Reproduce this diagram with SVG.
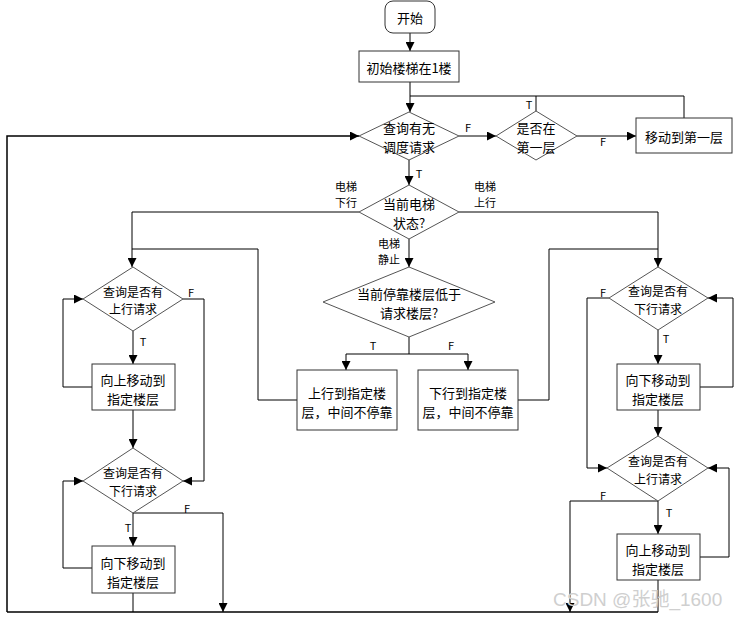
<svg xmlns="http://www.w3.org/2000/svg" width="738" height="618" viewBox="0 0 738 618">
<defs>
<marker id="arr" markerUnits="userSpaceOnUse" markerWidth="9" markerHeight="9" refX="9" refY="4.5" orient="auto">
<path d="M0,0 L9,4.5 L0,9 z" fill="#000"/>
</marker>
<style>
.box{fill:#fff;stroke:#333;stroke-width:1}
.dia{fill:#fff;stroke:#555;stroke-width:1}
.t{font-family:"Microsoft YaHei","Noto Sans CJK SC",sans-serif;font-size:13px;fill:#000;text-anchor:middle;dominant-baseline:central}
.s{font-family:"Microsoft YaHei","Noto Sans CJK SC",sans-serif;font-size:12px;fill:#000;text-anchor:middle;dominant-baseline:central}
.l{font-family:"Microsoft YaHei","Noto Sans CJK SC",sans-serif;font-size:11px;fill:#000;text-anchor:middle;dominant-baseline:central}
.c{fill:none;stroke:#000;stroke-width:1}
.a{marker-end:url(#arr)}
</style>
</defs>
<rect width="738" height="618" fill="#fff"/>
<g id="connectors">
<path class="c a" d="M410,33 V51"/>
<path class="c a" d="M410,82 V112"/>
<path class="c" d="M684,118 V96 H410"/>
<path class="c" d="M536,111 V96"/>
<path class="c a" d="M459,136 H496"/>
<path class="c a" d="M577,136 H636"/>
<path class="c a" d="M7,612 V136 H359" style="stroke-width:1.5"/>
<path class="c a" d="M409,160 V185"/>
<path class="c a" d="M359,212 H132 V267"/>
<path class="c a" d="M459,212 H658 V267"/>
<path class="c a" d="M409,239 V267"/>
<path class="c" d="M409,337 V354 M346,354 H468"/>
<path class="c a" d="M346,354 V370"/>
<path class="c a" d="M468,354 V370"/>
<path class="c" d="M297,400 H258 V249 H132"/>
<path class="c" d="M518,400 H549 V249 H658"/>
<path class="c a" d="M133,331 V364"/>
<path class="c a" d="M92,387 H63 V299 H83"/>
<path class="c a" d="M183,299 H204 V481 H183"/>
<path class="c a" d="M133,410 V448"/>
<path class="c a" d="M133,513 V546"/>
<path class="c a" d="M92,568 H63 V481 H83"/>
<path class="c a" d="M133,513 H223 V612"/>
<path class="c" d="M133,593 V612"/>
<path class="c" d="M7,612 H658" style="stroke-width:1.5"/>
<path class="c a" d="M658,330 V364"/>
<path class="c a" d="M700,387 H733 V298 H708"/>
<path class="c a" d="M609,298 H587 V468 H607"/>
<path class="c a" d="M658,410 V436"/>
<path class="c a" d="M658,501 V534"/>
<path class="c a" d="M700,557 H729 V468 H708"/>
<path class="c a" d="M658,501 H570 V612"/>
<path class="c" d="M658,580 V612"/>
</g>
<g id="labels">
<text class="l" x="529" y="104">T</text>
<text class="l" x="468" y="127">F</text>
<text class="l" x="603" y="141">F</text>
<text class="l" x="419" y="173">T</text>
<text class="l" x="346" y="186">电梯</text>
<text class="l" x="346" y="202">下行</text>
<text class="l" x="485" y="186">电梯</text>
<text class="l" x="485" y="202">上行</text>
<text class="l" x="389" y="243">电梯</text>
<text class="l" x="389" y="259">静止</text>
<text class="l" x="373" y="345">T</text>
<text class="l" x="451" y="345">F</text>
<text class="l" x="191" y="292">F</text>
<text class="l" x="143" y="341">T</text>
<text class="l" x="128" y="527">T</text>
<text class="l" x="187" y="508">F</text>
<text class="l" x="603" y="292">F</text>
<text class="l" x="666" y="338">T</text>
<text class="l" x="603" y="495">F</text>
<text class="l" x="669" y="512">T</text>
</g>
<g id="start">
<rect class="box" x="385" y="1" width="50" height="32" rx="8"/>
<text class="t" x="410" y="17">开始</text>
</g>
<g id="init">
<rect class="box" x="359" y="51" width="100" height="31"/>
<text class="t" x="409" y="67">初始楼梯在1楼</text>
</g>
<g id="query-dispatch">
<polygon class="dia" points="409,112 459,136 409,160 359,136"/>
<text class="t" x="409" y="127">查询有无</text>
<text class="t" x="409" y="146">调度请求</text>
</g>
<g id="is-first">
<polygon class="dia" points="536,111 577,136 536,160 496,136"/>
<text class="t" x="536" y="127">是否在</text>
<text class="t" x="536" y="146">第一层</text>
</g>
<g id="move-first">
<rect class="box" x="636" y="118" width="96" height="35"/>
<text class="t" x="684" y="136">移动到第一层</text>
</g>
<g id="state">
<polygon class="dia" points="409,185 459,212 409,239 359,212"/>
<text class="t" x="409" y="203">当前电梯</text>
<text class="t" x="409" y="222">状态?</text>
</g>
<g id="compare">
<polygon class="dia" points="409,267 495,302 409,337 323,302"/>
<text class="t" x="409" y="293">当前停靠楼层低于</text>
<text class="t" x="409" y="312">请求楼层?</text>
</g>
<g id="go-up-direct">
<rect class="box" x="297" y="370" width="100" height="60"/>
<text class="t" x="347" y="392">上行到指定楼</text>
<text class="t" x="347" y="411">层，中间不停靠</text>
</g>
<g id="go-down-direct">
<rect class="box" x="418" y="370" width="100" height="60"/>
<text class="t" x="468" y="392">下行到指定楼</text>
<text class="t" x="468" y="411">层，中间不停靠</text>
</g>
<g id="l-query-up">
<polygon class="dia" points="133,267 183,299 133,331 83,299"/>
<text class="s" x="133" y="291">查询是否有</text>
<text class="s" x="133" y="308">上行请求</text>
</g>
<g id="l-move-up">
<rect class="box" x="92" y="364" width="83" height="46"/>
<text class="t" x="133" y="379">向上移动到</text>
<text class="t" x="133" y="398">指定楼层</text>
</g>
<g id="l-query-down">
<polygon class="dia" points="133,448 183,481 133,513 83,481"/>
<text class="s" x="133" y="472">查询是否有</text>
<text class="s" x="133" y="490">下行请求</text>
</g>
<g id="l-move-down">
<rect class="box" x="92" y="546" width="83" height="47"/>
<text class="t" x="133" y="562">向下移动到</text>
<text class="t" x="133" y="581">指定楼层</text>
</g>
<g id="r-query-down">
<polygon class="dia" points="658,267 708,298 658,330 609,298"/>
<text class="s" x="658" y="290">查询是否有</text>
<text class="s" x="658" y="308">下行请求</text>
</g>
<g id="r-move-down">
<rect class="box" x="617" y="364" width="83" height="46"/>
<text class="t" x="658" y="379">向下移动到</text>
<text class="t" x="658" y="398">指定楼层</text>
</g>
<g id="r-query-up">
<polygon class="dia" points="658,436 708,468 658,501 607,468"/>
<text class="s" x="658" y="460">查询是否有</text>
<text class="s" x="658" y="478">上行请求</text>
</g>
<g id="r-move-up">
<rect class="box" x="617" y="534" width="83" height="46"/>
<text class="t" x="658" y="549">向上移动到</text>
<text class="t" x="658" y="568">指定楼层</text>
</g>
<text x="553" y="606" style="font-family:'Liberation Sans','Noto Sans CJK SC',sans-serif;font-size:19px;fill:#cfcfcf">CSDN @张驰_1600</text>
</svg>
